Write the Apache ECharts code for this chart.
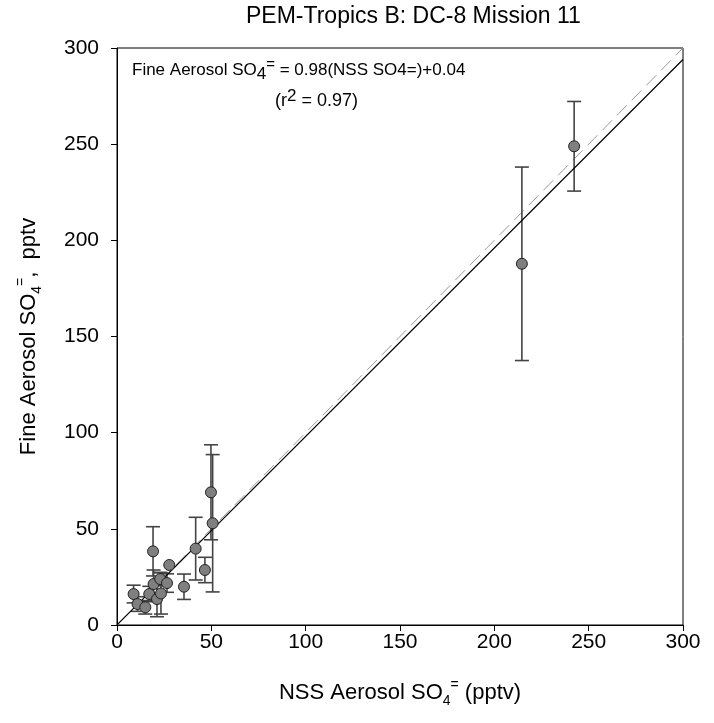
<!DOCTYPE html>
<html><head><meta charset="utf-8">
<script src="https://cdn.jsdelivr.net/npm/echarts@6/dist/echarts.min.js"></script>
<style>html,body{margin:0;padding:0;background:#fff}#c{width:714px;height:723px}</style>
</head><body><div id="c"></div>
<script>
// Data
const nssSO4  = [8.8, 10.9, 15.0, 17.1, 19.4, 21.2, 22.9, 23.3, 26.5, 19.1, 27.7, 35.5, 41.7, 46.6, 49.8, 50.7, 214.6, 242.3];
const fineSO4 = [16.1, 10.9, 9.2, 16.1, 21.3, 13.5, 23.9, 16.4, 21.8, 38.3, 31.2, 19.9, 39.7, 28.6, 69.0, 52.9, 187.8, 248.9];
const fineErr = [4.6, 3.8, 3.5, 4.0, 7.3, 9.2, 3.5, 10.7, 4.8, 12.8, 0, 6.6, 16.3, 6.6, 24.7, 35.7, 50.3, 23.3];
const slope = 0.98, intercept = 0.04;
const axisMin = 0, axisMax = 300, axisStep = 50;
const fitLine = [[axisMin, intercept], [axisMax, slope * axisMax + intercept]];
const oneToOne = [[axisMin, axisMin], [axisMax, axisMax]];

const points = nssSO4.map((x, i) => [x, fineSO4[i], fineErr[i]]);
const FONT = 'Liberation Sans, Arial, sans-serif';

const nameRich = {
  n: { fontFamily: FONT, fontSize: 22, color: '#000', lineHeight: 30, verticalAlign: 'middle' },
  sub: { fontFamily: FONT, fontSize: 14, color: '#000', lineHeight: 30, verticalAlign: 'bottom' },
  sup: { fontFamily: FONT, fontSize: 14, color: '#000', lineHeight: 30, verticalAlign: 'top' }
};

const chart = echarts.init(document.getElementById('c'));
chart.setOption({
  animation: false,
  backgroundColor: '#fff',
  title: {
    text: 'PEM-Tropics B: DC-8 Mission 11',
    left: 241, top: 0,
    textStyle: { fontFamily: FONT, fontSize: 23, fontWeight: 'normal', color: '#000' }
  },
  grid: { left: 117, right: 31, top: 48, bottom: 98, show: true, borderColor: '#000', borderWidth: 1 },
  xAxis: {
    type: 'value', min: axisMin, max: axisMax, interval: axisStep,
    name: '{n|NSS Aerosol SO}{sub|4}{sup|=}{n| (pptv)}',
    nameLocation: 'middle', nameGap: 53,
    nameTextStyle: { fontFamily: FONT, color: '#000', rich: nameRich },
    axisLine: { show: true, onZero: false, lineStyle: { color: '#000', width: 1 } },
    axisTick: { show: true, inside: false, length: 6, lineStyle: { color: '#000' } },
    axisLabel: { fontFamily: FONT, fontSize: 21, color: '#000', margin: 7 },
    splitLine: { show: false }
  },
  yAxis: {
    type: 'value', min: axisMin, max: axisMax, interval: axisStep,
    name: '{n|Fine Aerosol SO}{sub|4}{sup|=}{n|,  pptv}',
    nameLocation: 'middle', nameGap: 73, nameRotate: 90,
    nameTextStyle: { fontFamily: FONT, color: '#000', rich: nameRich },
    axisLine: { show: true, onZero: false, lineStyle: { color: '#000', width: 1 } },
    axisTick: { show: true, inside: false, length: 6, lineStyle: { color: '#000' } },
    axisLabel: { fontFamily: FONT, fontSize: 21, color: '#000', margin: 18 },
    splitLine: { show: false }
  },
  graphic: [
    {
      type: 'text', left: 132, top: 57, z: 100,
      style: {
        text: '{n|Fine Aerosol SO}{sub|4}{sup|=}{n| = 0.98(NSS SO4=)+0.04}',
        rich: {
          n: { fontFamily: FONT, fontSize: 17, fill: '#000', lineHeight: 26, verticalAlign: 'middle' },
          sub: { fontFamily: FONT, fontSize: 17, fill: '#000', lineHeight: 26, verticalAlign: 'bottom' },
          sup: { fontFamily: FONT, fontSize: 15, fill: '#000', lineHeight: 26, verticalAlign: 'top' }
        }
      }
    },
    {
      type: 'text', left: 275, top: 88, z: 100,
      style: {
        text: '{n|(r}{sup|2}{n| = 0.97)}',
        rich: {
          n: { fontFamily: FONT, fontSize: 18, fill: '#000', lineHeight: 26, verticalAlign: 'middle' },
          sup: { fontFamily: FONT, fontSize: 17, fill: '#000', lineHeight: 26, verticalAlign: 'top' }
        }
      }
    }
  ],
  series: [
    {
      type: 'line', data: oneToOne, symbol: 'none', z: 2,
      lineStyle: { color: '#999', width: 1, type: [14, 7] }
    },
    {
      type: 'line', data: fitLine, symbol: 'none', z: 4,
      lineStyle: { color: '#000', width: 1.2 }
    },
    {
      type: 'custom', z: 3,
      data: points,
      renderItem: function (params, api) {
        const x = api.value(0), y = api.value(1), e = api.value(2);
        if (!e) return null;
        const t = api.coord([x, y + e]);
        const b = api.coord([x, y - e]);
        const w = 7;
        const st = { stroke: '#444', lineWidth: 1.6 };
        return {
          type: 'group',
          children: [
            { type: 'line', shape: { x1: t[0], y1: t[1], x2: b[0], y2: b[1] }, style: st },
            { type: 'line', shape: { x1: t[0] - w, y1: t[1], x2: t[0] + w, y2: t[1] }, style: st },
            { type: 'line', shape: { x1: b[0] - w, y1: b[1], x2: b[0] + w, y2: b[1] }, style: st }
          ]
        };
      }
    },
    {
      type: 'scatter', data: points, z: 5,
      symbol: 'circle', symbolSize: 11,
      itemStyle: { color: '#7f7f7f', borderColor: '#222', borderWidth: 1, opacity: 1 }
    }
  ]
});
</script>
</body></html>
